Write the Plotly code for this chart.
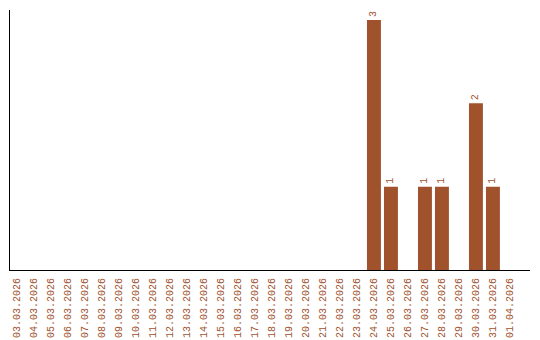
import plotly.graph_objects as go

dates = ["03.03.2026", "04.03.2026", "05.03.2026", "06.03.2026", "07.03.2026",
         "08.03.2026", "09.03.2026", "10.03.2026", "11.03.2026", "12.03.2026",
         "13.03.2026", "14.03.2026", "15.03.2026", "16.03.2026", "17.03.2026",
         "18.03.2026", "19.03.2026", "20.03.2026", "21.03.2026", "22.03.2026",
         "23.03.2026", "24.03.2026", "25.03.2026", "26.03.2026", "27.03.2026",
         "28.03.2026", "29.03.2026", "30.03.2026", "31.03.2026", "01.04.2026"]
counts = [0, 0, 0, 0, 0, 0, 0, 0, 0, 0,
          0, 0, 0, 0, 0, 0, 0, 0, 0, 0,
          0, 3, 1, 0, 1, 1, 0, 2, 1, 0]

color = "#A0522D"
font_family = "Liberation Mono"
labels = [str(v) if v > 0 else "" for v in counts]

fig = go.Figure(go.Bar(
    x=dates, y=counts, marker_color=color, marker_line_width=0,
    text=labels, textposition="outside", textangle=-90,
    textfont=dict(family=font_family, size=10, color=color),
    cliponaxis=False, width=0.82,
))

fig.update_layout(
    width=540, height=340,
    margin=dict(l=10, r=10, t=10, b=70),
    plot_bgcolor="white", paper_bgcolor="white",
    showlegend=False,
    xaxis=dict(type="category", range=[-0.41, 30.18], tickangle=-90,
               tickfont=dict(family=font_family, size=10, color=color),
               showline=True, linecolor="black", linewidth=1, showgrid=False,
               ticks="", ticklabelstandoff=3, automargin=False, fixedrange=True),
    yaxis=dict(range=[0, 3.12], showline=True, linecolor="black", linewidth=1,
               showgrid=False, showticklabels=False, ticks="", zeroline=False,
               automargin=False),
)

fig.write_html("out.html")
